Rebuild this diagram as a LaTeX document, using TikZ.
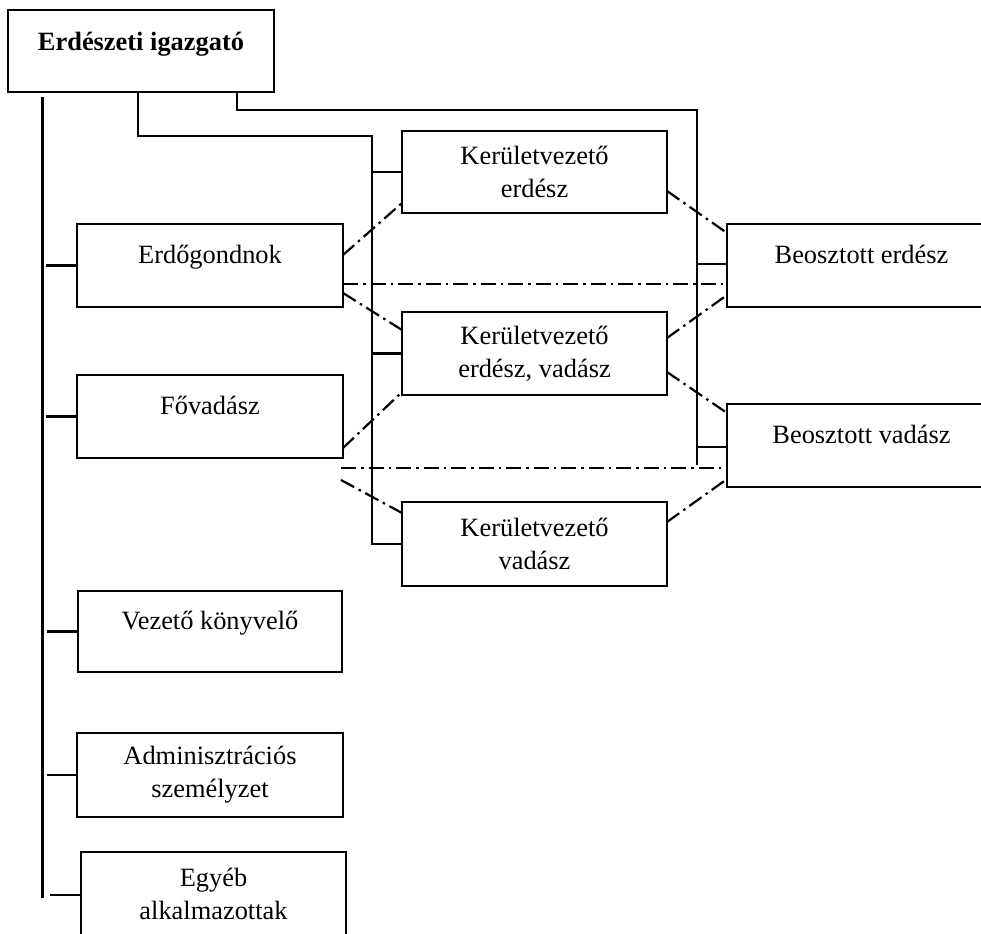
\documentclass[tikz,border=0pt]{standalone}
\usepackage{fontspec}
\setmainfont{Liberation Serif}
\usetikzlibrary{calc}
\begin{document}
\begin{tikzpicture}[x=1pt,y=-1pt,
  boxnode/.style={draw, line width=2.6pt, inner sep=0pt, outer sep=0pt, font=\fontsize{26.4}{33}\selectfont},
  oneline/.style={text height=18pt, text depth=23pt},
  twoline/.style={align=center},
  treeline/.style={line width=2.3pt},
  branchline/.style={line width=2.9pt},
  ddline/.style={line width=2.2pt, dash pattern=on 15pt off 5pt on 2.5pt off 5pt}
]
\useasboundingbox (0,0) rectangle (981,933);
\clip (0,0) rectangle (981,933);
\fill[white] (0,0) rectangle (981,933);

% boxes
\node[boxnode, font=\fontsize{26.4}{33}\selectfont\bfseries, text height=18pt, text depth=18pt, minimum width=266pt, minimum height=82pt] (top) at (141,51) {Erdészeti igazgató};
\node[boxnode, twoline, minimum width=265pt, minimum height=82pt] (KVE) at (534.5,172) {Kerületvezető\\erdész};
\node[boxnode, oneline, minimum width=266pt, minimum height=83pt] (EG) at (210,265.5) {Erdőgondnok};
\node[boxnode, twoline, minimum width=265pt, minimum height=83pt] (KVEV) at (534.5,353.5) {Kerületvezető\\erdész, vadász};
\node[boxnode, oneline, minimum width=266pt, minimum height=83pt] (FV) at (210,416.5) {Fővadász};
\node[boxnode, oneline, minimum width=269pt, minimum height=83pt] (BE) at (861.5,265.5) {Beosztott erdész};
\node[boxnode, oneline, minimum width=269pt, minimum height=83pt] (BV) at (861.5,445.5) {Beosztott vadász};
\node[boxnode, twoline, minimum width=265pt, minimum height=84pt] (KVV) at (534.5,544) {Kerületvezető\\vadász};
\node[boxnode, oneline, minimum width=264pt, minimum height=81pt] (VK) at (210,631.5) {Vezető könyvelő};
\node[boxnode, twoline, minimum width=266pt, minimum height=84pt] (AD) at (210,775) {Adminisztrációs\\személyzet};
\node[boxnode, twoline, minimum width=265pt, minimum height=84pt] (EA) at (213.5,894) {Egyéb\\alkalmazottak};

% left trunk
\coordinate (L0) at ($(top.south west)+(34.5,5)$);
\coordinate (L1) at (42.5,898);
\draw[treeline] (L0) -- (L1);
\draw[branchline] (EG.west) -- ($(EG.west -| L0)+(3.5,0)$);
\draw[branchline] (FV.west) -- ($(FV.west -| L0)+(3.5,0)$);
\draw[branchline] (VK.west) -- ($(VK.west -| L0)+(4,0)$);
\draw[branchline] (AD.west) -- ($(AD.west -| L0)+(4,0)$);
\draw[branchline] ([yshift=-1pt]EA.west) -- ($([yshift=-1pt]EA.west -| L0)+(7.5,0)$);

% middle trunk
\coordinate (topB) at ($(top.south west)+(130,0)$);
\coordinate (mid1) at (372,136);
\draw[branchline] (topB) |- (mid1) |- (KVV.west);
\draw[branchline] (KVE.west -| mid1) -- (KVE.west);
\draw[treeline] (KVEV.west -| mid1) -- (KVEV.west);

% right trunk
\coordinate (topC) at ($(top.south west)+(229,0)$);
\coordinate (rt1) at (697,110);
\coordinate (rt2) at (697,465);
\draw[treeline] (topC) |- (rt1) -- (rt2);
\draw[treeline] ([yshift=1.5pt]BE.west -| rt1) -- ([yshift=1.5pt]BE.west);
\draw[treeline] ([yshift=-1.5pt]BV.west -| rt1) -- ([yshift=-1.5pt]BV.west);

% dash-dot relations
\coordinate (dl1) at ($(FV.south east)+(-2,10)$);
\coordinate (dl2) at ($(FV.south east)+(-2,22)$);
\draw[ddline] ($(EG.east)+(0,-10.5)$) -- ($(KVE.west)+(0,31)$);
\draw[ddline] ($(EG.east)+(0,27.5)$) -- ($(KVEV.west)+(0,-23.5)$);
\draw[ddline] ($(FV.east)+(0,31.5)$) -- ($(KVEV.west)+(0,38.5)$);
\draw[ddline] ($(EG.east)+(0,18.5)$) -- ($(BE.west)+(0,18.5)$);
\draw[ddline] (dl1) -- ($(BV.west)+(0,22.5)$);
\draw[ddline] (dl2) -- ($(KVV.west)+(0,-31)$);
\draw[ddline] ($(KVE.east)+(0,19)$) -- ($(BE.west)+(0,-32.5)$);
\draw[ddline] ($(KVEV.east)+(0,-15.5)$) -- ($(BE.west)+(0,29.5)$);
\draw[ddline] ($(KVEV.east)+(0,18.5)$) -- ($(BV.west)+(0,-32.5)$);
\draw[ddline] ($(KVV.east)+(0,-22)$) -- ($(BV.west)+(0,33.5)$);
\end{tikzpicture}
\end{document}
